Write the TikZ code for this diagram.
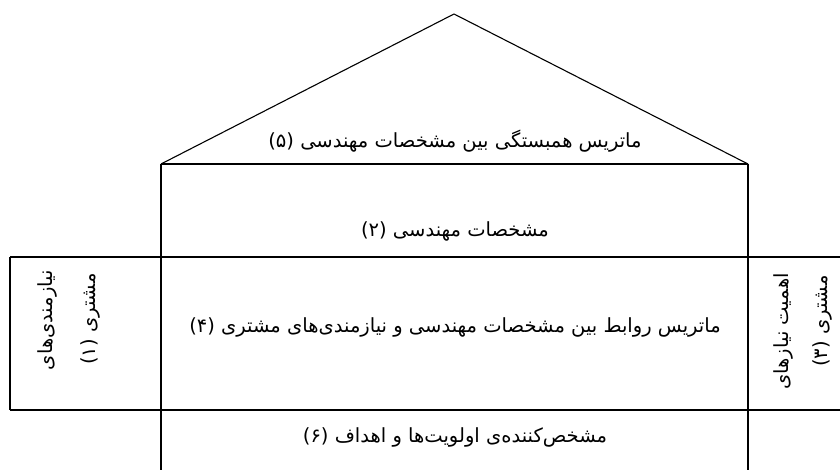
\documentclass[tikz,border=0pt]{standalone}
\usepackage{fontspec}
\newfontfamily\fa[Script=Arabic]{DejaVu Sans}
\TeXXeTstate=1
\begin{document}
\begin{tikzpicture}[x=1pt,y=-1pt,
  thick line/.style={line width=2pt},
  roof line/.style={line width=1.1pt},
  fatext/.style={font=\fa\fontsize{19.5}{23}\selectfont, inner sep=0pt}]
\useasboundingbox (0,0) rectangle (840,470);
% key points
\coordinate (apex) at (454,14);
\coordinate (rl) at (161,164);
\coordinate (rr) at (748,164);
\coordinate (bl) at (161,470);
\coordinate (br) at (748,470);
\coordinate (ml) at (10,257);
\coordinate (mr) at (840,257);
\coordinate (nl) at (10,410);
\coordinate (nr) at (840,410);
% roof
\draw[roof line, line join=miter] (rl) -- (apex) -- (rr);
% house body
\draw[thick line] (rl) -- (rr);
\draw[thick line] (rl) -- (bl);
\draw[thick line] (rr) -- (br);
\draw[thick line] (ml) -- (mr);
\draw[thick line] (nl) -- (nr);
\draw[thick line] (ml) -- (nl);
% texts
\node[fatext] (t5) at (455,141) {\beginR ماتریس همبستگی بین مشخصات مهندسی (۵)\endR};
\node[fatext] (t2) at (455,231) {\beginR مشخصات مهندسی (۲)\endR};
\node[fatext] (t4) at (455,327) {\beginR ماتریس روابط بین مشخصات مهندسی و نیازمندی^^^^200cهای مشتری (۴)\endR};
\node[fatext] (t6) at (455,437) {\beginR مشخص^^^^200cکننده^^^^200cی اولویت^^^^200cها و اهداف (۶)\endR};
\node[fatext, rotate=90, anchor=east] (t1a) at (47,270) {\beginR نیازمندی^^^^200cهای\endR};
\node[fatext, rotate=90, anchor=east] (t1b) at (90,273) {\beginR مشتری (۱)\endR};
\node[fatext, rotate=90, anchor=east] (t3a) at (783,273) {\beginR اهمیت نیازهای\endR};
\node[fatext, rotate=90, anchor=east] (t3b) at (822,275) {\beginR مشتری (۳)\endR};
\end{tikzpicture}
\end{document}
